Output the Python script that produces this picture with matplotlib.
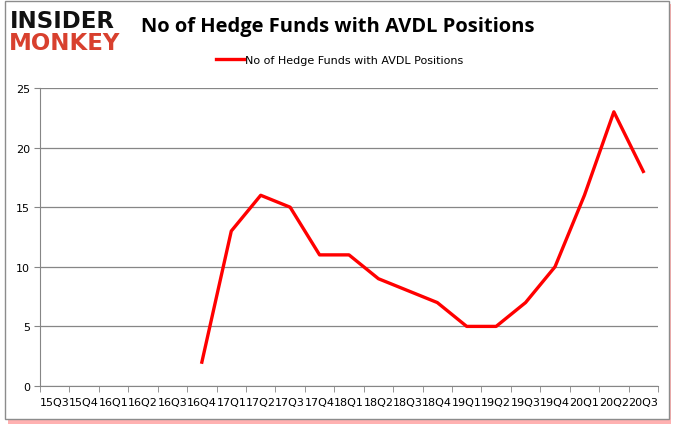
import matplotlib
matplotlib.use("Agg")
import matplotlib.pyplot as plt
from matplotlib.patches import Rectangle

# Datos del grafico
quarters = ["15Q3", "15Q4", "16Q1", "16Q2", "16Q3", "16Q4", "17Q1", "17Q2", "17Q3",
            "17Q4", "18Q1", "18Q2", "18Q3", "18Q4", "19Q1", "19Q2", "19Q3", "19Q4",
            "20Q1", "20Q2", "20Q3"]
# el primer dato es 16Q4
start_idx = 5
hedge_funds = [2, 13, 16, 15, 11, 11, 9, 8, 7, 5, 5, 7, 10, 16, 23, 18]
y_ticks = [0, 5, 10, 15, 20, 25]

fig = plt.figure(figsize=(6.8, 4.31), dpi=100)
ax = fig.add_axes([40 / 680, 1 - 387 / 431, 618 / 680, 298 / 431])
ax.set_zorder(5)

# marco con sombra roja
fig.patches.append(Rectangle((8 / 680, 1 - 425 / 431), 663 / 680, 420 / 431,
                             transform=fig.transFigure, facecolor="#ff2020",
                             edgecolor="none", alpha=0.35, zorder=0))
fig.patches.append(Rectangle((5 / 680, 1 - 420 / 431), 664 / 680, 418 / 431,
                             transform=fig.transFigure, facecolor="white",
                             edgecolor="#8c8c8c", linewidth=1, zorder=1))

x = [i + 0.5 for i in range(start_idx, start_idx + len(hedge_funds))]
ax.plot(x, hedge_funds, color="#ff0000", linewidth=2.4,
        label="No of Hedge Funds with AVDL Positions", zorder=3)

ax.set_xlim(0, len(quarters))
ax.set_ylim(0, 25)
ax.set_yticks(y_ticks)
ax.set_xticks([i + 0.5 for i in range(len(quarters))])
ax.set_xticklabels(quarters)
ax.set_xticks(range(len(quarters) + 1), minor=True)
ax.tick_params(axis="x", which="major", length=0, pad=8, labelsize=8)
ax.tick_params(axis="x", which="minor", length=4, color="#868686")
ax.tick_params(axis="y", length=4, color="#868686", labelsize=8, pad=3)
ax.grid(axis="y", color="#868686", linewidth=0.9)
ax.set_axisbelow(True)
for s in ["top", "right"]:
    ax.spines[s].set_visible(False)
for s in ["left", "bottom"]:
    ax.spines[s].set_color("#868686")
ax.set_facecolor("none")

fig.text(0.497, 1 - 27 / 431, "No of Hedge Funds with AVDL Positions",
         ha="center", va="center", fontsize=14.5, fontweight="bold",
         family="Open Sans", zorder=6)
fig.text(10 / 680, 1 - 21 / 431, "INSIDER", ha="left", va="center",
         fontsize=16.5, fontweight="heavy", color="#111111", family="DejaVu Sans", zorder=6)
fig.text(9 / 680, 1 - 44 / 431, "MONKEY", ha="left", va="center",
         fontsize=16.5, fontweight="heavy", color="#d8402e", family="DejaVu Sans", zorder=6)

ax.legend(loc="center", bbox_to_anchor=(0.5, 1 - 61 / 431), bbox_transform=fig.transFigure,
          frameon=False, fontsize=8, handlelength=2.5, handletextpad=0.1)

plt.savefig("out.png", dpi=100)
